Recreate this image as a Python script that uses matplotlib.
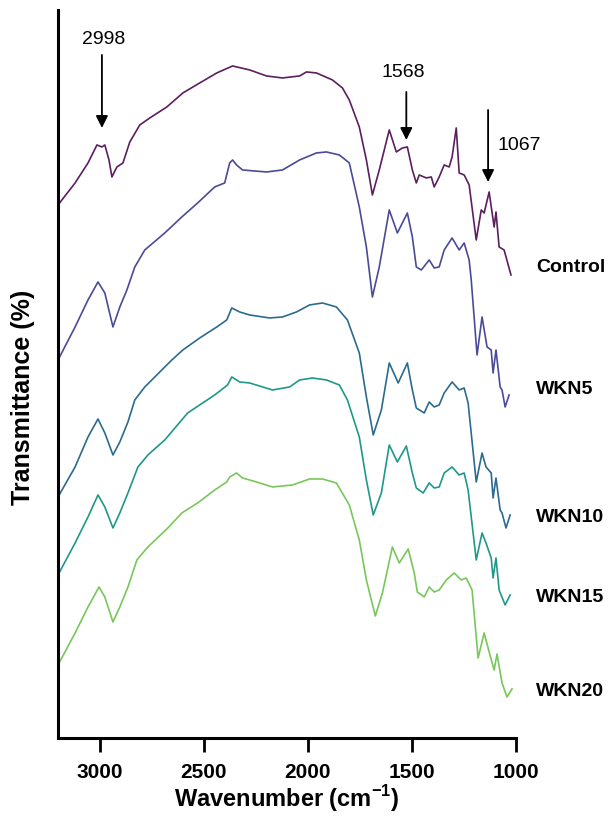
import matplotlib
matplotlib.use("Agg")
import matplotlib.pyplot as plt

plt.rcParams["mathtext.fontset"] = "custom"
plt.rcParams["mathtext.rm"] = "Liberation Sans"
plt.rcParams["mathtext.bf"] = "Liberation Sans:bold"

# FTIR spectra, wavenumber (cm-1) and stacked transmittance (arbitrary offset units)
control_w = [3200, 3118, 3056, 3013, 2989, 2975, 2955, 2941, 2917, 2888, 2855, 2807, 2759, 2677,
             2600, 2519, 2437, 2361, 2279, 2198, 2121, 2039, 2006, 1958, 1881, 1833, 1800, 1752,
             1718, 1689, 1656, 1608, 1574, 1545, 1521, 1497, 1478, 1464, 1430, 1406, 1392, 1368,
             1344, 1320, 1306, 1286, 1272, 1248, 1224, 1190, 1166, 1152, 1128, 1104, 1095, 1080,
             1056, 1023]
control_t = [533, 555, 575, 593, 591, 593, 578, 561, 571, 575, 596, 613, 620, 631,
             645, 655, 665, 672, 668, 662, 660, 662, 666, 665, 658, 650, 638, 611,
             578, 543, 568, 608, 586, 590, 591, 568, 555, 563, 560, 561, 551, 561,
             573, 571, 581, 610, 565, 563, 553, 498, 528, 525, 546, 511, 526, 491,
             488, 463]

wkn5_w = [3200, 3118, 3056, 3008, 2975, 2936, 2903, 2869, 2831, 2783, 2687, 2605, 2529, 2447,
          2399, 2375, 2361, 2342, 2313, 2198, 2121, 2039, 1958, 1910, 1848, 1800, 1752, 1718,
          1689, 1656, 1608, 1569, 1521, 1497, 1478, 1454, 1416, 1392, 1368, 1344, 1306, 1272,
          1248, 1224, 1214, 1186, 1162, 1138, 1118, 1109, 1095, 1075, 1066, 1051, 1032]
wkn5_t = [378, 411, 438, 456, 445, 411, 431, 448, 471, 488, 505, 521, 535, 551,
          555, 575, 578, 573, 568, 566, 568, 578, 585, 586, 583, 575, 531, 491,
          441, 471, 528, 505, 525, 501, 471, 468, 478, 470, 471, 488, 500, 488,
          495, 478, 458, 383, 421, 391, 388, 365, 388, 351, 348, 331, 343]

wkn10_w = [3200, 3118, 3056, 3008, 2975, 2936, 2903, 2864, 2831, 2783, 2653, 2600, 2519, 2437,
           2389, 2365, 2327, 2279, 2183, 2121, 2054, 1991, 1929, 1862, 1809, 1752, 1718, 1685,
           1646, 1608, 1565, 1521, 1497, 1478, 1440, 1416, 1392, 1368, 1344, 1306, 1272, 1248,
           1229, 1190, 1162, 1143, 1118, 1109, 1095, 1075, 1066, 1047, 1027]
wkn10_t = [241, 271, 301, 319, 305, 283, 296, 316, 338, 351, 378, 388, 400, 411,
           418, 430, 426, 423, 420, 421, 426, 433, 435, 431, 418, 385, 341, 303,
           328, 375, 355, 375, 348, 330, 325, 336, 331, 333, 345, 356, 348, 350,
           335, 256, 285, 271, 265, 240, 260, 228, 225, 210, 223]

wkn15_w = [3200, 3118, 3056, 3008, 2975, 2936, 2903, 2864, 2816, 2768, 2687, 2577, 2447, 2385,
           2365, 2327, 2279, 2169, 2087, 2039, 1977, 1910, 1848, 1809, 1752, 1718, 1685, 1646,
           1608, 1569, 1526, 1497, 1478, 1445, 1416, 1392, 1368, 1344, 1306, 1272, 1248, 1229,
           1190, 1162, 1143, 1118, 1109, 1095, 1080, 1051, 1027]
wkn15_t = [163, 195, 221, 243, 231, 210, 225, 245, 271, 283, 298, 325, 343, 353,
           361, 356, 355, 348, 351, 358, 360, 358, 353, 338, 301, 258, 223, 245,
           293, 276, 292, 265, 250, 245, 255, 250, 251, 265, 271, 263, 265, 248,
           178, 205, 195, 180, 160, 180, 148, 133, 143]

wkn20_w = [3200, 3118, 3056, 3003, 2975, 2936, 2903, 2864, 2821, 2768, 2672, 2605, 2529, 2447,
           2389, 2375, 2342, 2313, 2246, 2169, 2073, 1991, 1929, 1862, 1800, 1752, 1718, 1675,
           1641, 1593, 1560, 1517, 1488, 1473, 1440, 1416, 1392, 1368, 1334, 1296, 1262, 1238,
           1210, 1181, 1152, 1128, 1104, 1090, 1066, 1042, 1018]
wkn20_t = [73, 105, 131, 151, 141, 116, 131, 151, 178, 191, 210, 225, 235, 248,
           256, 261, 265, 260, 256, 251, 253, 259, 259, 255, 233, 198, 158, 122,
           145, 191, 175, 189, 165, 146, 141, 151, 146, 148, 158, 165, 158, 160,
           148, 80, 105, 86, 68, 84, 55, 41, 49]

names = ["Control", "WKN5", "WKN10", "WKN15", "WKN20"]
label_y = [470, 348, 220, 140, 46]
colors = ["#5b1e5f", "#4b4a98", "#2b6b8e", "#1f9889", "#78c75a"]

# annotated bands: label, arrow position, arrow top, arrow tip
band_labels = ["2998", "1568", "1067"]
band_arrow_x = [2989, 1526, 1133]
band_arrow_top = [683, 646, 628]
band_arrow_tip = [610, 598, 556]
band_text_xy = [(2979, 698), (1541, 665), (984, 592)]

fig = plt.figure(figsize=(6.14, 8.16), dpi=100)
ax = fig.add_axes([0.0945, 0.0956, 0.7455, 0.8922])

series = [(control_w, control_t), (wkn5_w, wkn5_t), (wkn10_w, wkn10_t),
          (wkn15_w, wkn15_t), (wkn20_w, wkn20_t)]
for (w, t), name, c, ly in zip(series, names, colors, label_y):
    ax.plot(w, t, color=c, lw=1.2)
    ax.text(903, ly, name, fontsize=14, fontweight="bold", family="Liberation Sans",
            ha="left", va="center", clip_on=False)

for lab, ax_x, top, tip, (tx, ty) in zip(band_labels, band_arrow_x, band_arrow_top,
                                         band_arrow_tip, band_text_xy):
    ax.annotate("", xy=(ax_x, tip), xytext=(ax_x, top),
                arrowprops=dict(arrowstyle="-|>", color="black", lw=1.3,
                                mutation_scale=18, shrinkA=0, shrinkB=0))
    ax.text(tx, ty, lab, fontsize=14, family="Liberation Sans", ha="center", va="center")

ax.set_xlim(3200, 1000)
ax.set_ylim(0, 728)
ax.set_xticks([3000, 2500, 2000, 1500, 1000])
ax.set_yticks([])
for s in ["top", "right"]:
    ax.spines[s].set_visible(False)
for s in ["left", "bottom"]:
    ax.spines[s].set_linewidth(2.2)
ax.tick_params(axis="x", direction="out", length=10, width=2, pad=8)
for lbl in ax.get_xticklabels():
    lbl.set_fontsize(15)
    lbl.set_fontweight("bold")
    lbl.set_family("Liberation Sans")

ax.set_xlabel("Wavenumber (cm$^{\\mathbf{-1}}$)", fontsize=17, fontweight="bold",
              family="Liberation Sans", labelpad=1)
fig.text(0.037, 0.513, "Transmittance (%)", rotation=90, fontsize=18, fontweight="bold",
         family="Liberation Sans", ha="center", va="center")

fig.savefig("out.png", dpi=100)
